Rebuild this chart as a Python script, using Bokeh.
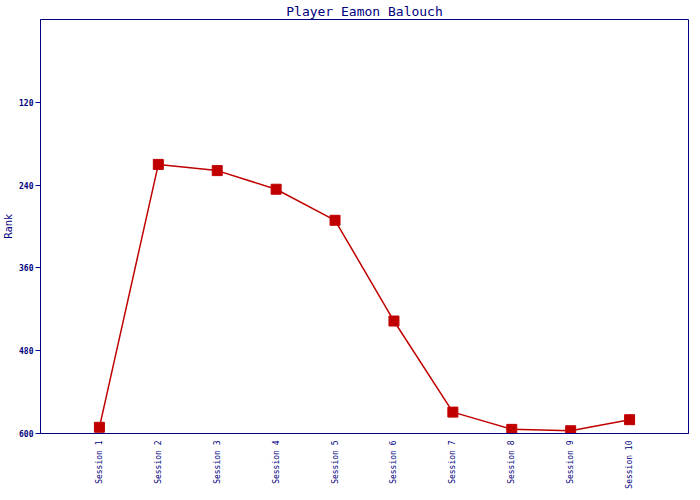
from bokeh.plotting import figure
from bokeh.models import Range1d, FixedTicker
from bokeh.embed import file_html
from bokeh.resources import INLINE

sessions = ["Session 1", "Session 2", "Session 3", "Session 4", "Session 5",
            "Session 6", "Session 7", "Session 8", "Session 9", "Session 10"]
ranks = [591, 210, 219, 246, 291, 437, 569, 594, 596, 580]
y_ticks = [120, 240, 360, 480, 600]

xs = list(range(1, len(sessions) + 1))
navy = "#000080"
red = "#c00000"

p = figure(frame_width=648, frame_height=414, output_backend="svg", toolbar_location=None,
           x_range=Range1d(0, 11), y_range=Range1d(600, 0),
           title="Player Eamon Balouch",
           min_border_left=0, min_border_right=2, min_border_bottom=0, min_border_top=0)

p.title.align = "center"
p.title.text_font = "DejaVu Sans Mono"
p.title.text_font_size = "13px"
p.title.text_font_style = "normal"
p.title.text_color = navy
p.title.standoff = 2
p.title.offset = 0

p.line(xs, ranks, line_color=red, line_width=1.5)
p.scatter(xs, ranks, marker="square", size=10, fill_color=red, line_color=red)

p.xgrid.visible = False
p.ygrid.visible = False
p.outline_line_color = navy
p.outline_line_width = 1
p.outline_line_alpha = 1

p.yaxis.ticker = FixedTicker(ticks=y_ticks)
p.yaxis.minor_tick_line_color = None
p.yaxis.axis_line_color = navy
p.yaxis.major_tick_line_color = navy
p.yaxis.major_tick_out = 5
p.yaxis.major_tick_in = 0
p.yaxis.major_label_standoff = 2
p.yaxis.major_label_text_font = "DejaVu Sans Mono"
p.yaxis.major_label_text_font_size = "8px"
p.yaxis.major_label_text_font_style = "bold"
p.yaxis.major_label_text_color = navy
p.yaxis.axis_label = "Rank"
p.yaxis.axis_label_text_font = "DejaVu Sans"
p.yaxis.axis_label_text_font_size = "10px"
p.yaxis.axis_label_text_font_style = "normal"
p.yaxis.axis_label_text_color = navy
p.yaxis.axis_label_standoff = 2

p.xaxis.ticker = FixedTicker(ticks=xs)
p.xaxis.major_label_overrides = {x: s for x, s in zip(xs, sessions)}
p.xaxis.major_label_orientation = 1.5708
p.xaxis.minor_tick_line_color = None
p.xaxis.major_tick_line_color = None
p.xaxis.major_tick_out = 0
p.xaxis.major_tick_in = 0
p.xaxis.axis_line_color = navy
p.xaxis.major_label_text_font = "DejaVu Sans Mono"
p.xaxis.major_label_text_font_size = "8px"
p.xaxis.major_label_text_color = navy
p.xaxis.major_label_standoff = 7

open("out.html", "w").write(file_html(p, INLINE))
